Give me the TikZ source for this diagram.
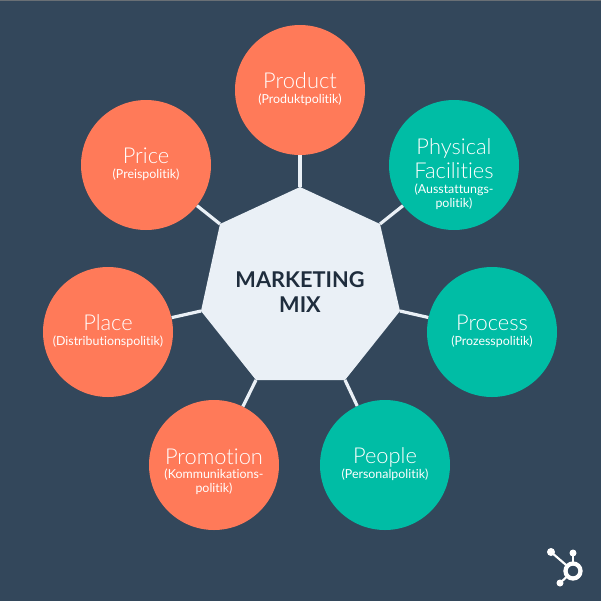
\documentclass[tikz,border=0pt]{standalone}
\usepackage{fontspec}
\setmainfont[Ligatures={NoCommon}]{Lato}
\newfontfamily\lightface[Ligatures={NoCommon}]{Lato Light}
\definecolor{bgc}{HTML}{33475B}
\definecolor{coral}{HTML}{FF7A59}
\definecolor{teal}{HTML}{00BDA5}
\definecolor{hept}{HTML}{EAF0F6}
\definecolor{ink}{HTML}{1F2D3D}
\newcommand{\fs}[1]{\fontsize{#1}{#1}\selectfont}
\newcommand{\tightlines}{\setlength{\baselineskip}{0pt}\setlength{\lineskip}{0pt}\setlength{\lineskiplimit}{0pt}}
\newcommand{\Tl}[2][13.65pt]{\vrule height #1 depth 4.75pt width 0pt\smash{\lightface\fs{16.4}#2}}
\newcommand{\Sb}[1]{\vrule height 6.25pt depth 4.25pt width 0pt\smash{\fs{9.3}#1}}
\tikzset{
 px/.style={x=0.75pt,y=-0.75pt},
 circ/.style={circle,minimum size=97.5pt,inner sep=0pt,text=white,align=center,font=\tightlines},
 warm/.style={circ,fill=coral},
 cool/.style={circ,fill=teal},
 link/.style={draw=hept,line width=2.4pt},
}
\begin{document}
\begin{tikzpicture}[px]
\useasboundingbox (0,0) rectangle (601,601);
\fill[bgc] (0,0) rectangle (601,601);
\fill[gray!70!bgc] (0,0) rectangle (601,1);
\coordinate (v1) at (300,187);
\coordinate (v2) at (380,224);
\coordinate (v3) at (400,311);
\coordinate (v4) at (345,380);
\coordinate (v5) at (256,380);
\coordinate (v6) at (201,311);
\coordinate (v7) at (220,224);
\node[warm] (product) at (300,90) {\Tl{Product}\\\Sb{(Produktpolitik)}};
\node[warm] (price) at (146,165) {\Tl{Price}\\\Sb{(Preispolitik)}};
\node[cool] (physical) at (454,165) {\Tl[27.65pt]{Physical}\\\Tl{Facilities}\\\Sb{(Ausstattungs-}\\\Sb{politik)}};
\node[warm] (place) at (108,332) {\Tl{Place}\\\Sb{(Distributionspolitik)}};
\node[cool] (process) at (492,332) {\Tl{Process}\\\Sb{(Prozesspolitik)}};
\node[warm] (promotion) at (214,465) {\Tl[24.25pt]{Promotion}\\\Sb{(Kommunikations-}\\\Sb{politik)}};
\node[cool] (people) at (385,465) {\Tl{People}\\\Sb{(Personalpolitik)}};
\draw[link] (product) -- (v1);
\draw[link] (price) -- (v7);
\draw[link] (physical) -- (v2);
\draw[link] (place) -- (v6);
\draw[link] (process) -- (v3);
\draw[link] (promotion) -- (v5);
\draw[link] (people) -- (v4);
\fill[hept] (v1) -- (v2) -- (v3) -- (v4) -- (v5) -- (v6) -- (v7) -- cycle;
\node[text=ink,align=center,font=\bfseries\fontsize{16.3}{18.75}\selectfont] (mix) at (300,292.5) {MARKETING\\MIX};
% logo
\coordinate (ring) at (573,571);
\coordinate (dotA) at (551,552);
\coordinate (dotB) at (573,553);
\coordinate (dotC) at (560,583);
\draw[white,line width=1.6pt] (ring) -- (dotA);
\draw[white,line width=1.6pt] (ring) -- (dotB);
\draw[white,line width=1.6pt] (ring) -- (dotC);
\fill[white] (dotA) circle (4);
\fill[white] (dotB) circle (3.5);
\fill[white] (dotC) circle (3.5);
\fill[bgc] (ring) circle (9);
\draw[white,line width=3.2pt] (ring) circle (7.5);
\end{tikzpicture}
\end{document}
